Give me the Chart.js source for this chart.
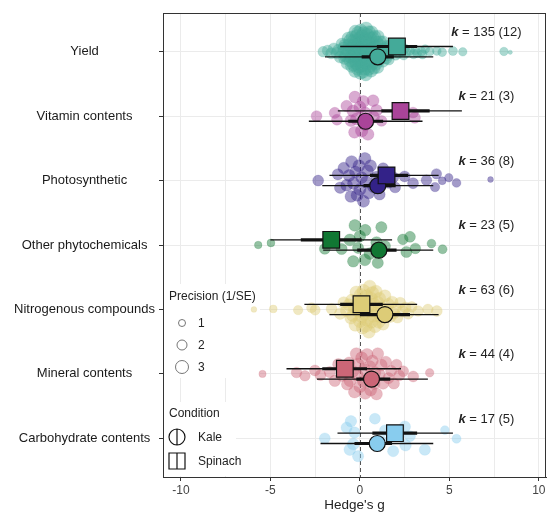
<!DOCTYPE html>
<html lang="en">
<head>
    <meta charset="UTF-8">
    <title>Orchard plot - Hedge's g</title>
    <script src="https://cdn.jsdelivr.net/npm/chart.js"></script>
    <style>
        body { margin: 0; background: #fff; }
    </style>
</head>
<body>
    <canvas id="myChart" width="547" height="515"></canvas>

    <script>
        // Moderators, top to bottom
        const categories = ['Yield', 'Vitamin contents', 'Photosynthetic', 'Other phytochemicals',
            'Nitrogenous compounds', 'Mineral contents', 'Carbohydrate contents'];
        const colours = ['#44AA99', '#AA4499', '#332288', '#117733', '#DDCC77', '#CC6677', '#88CCEE'];
        const kEffects = [135, 21, 36, 23, 63, 44, 17];
        const kStudies = [12, 3, 8, 5, 6, 4, 5];
        const xTickValues = [-10, -5, 0, 5, 10];

        // Effect sizes, [Hedge's g, precision 1/SE]
        const yieldG = [[-2.05,2.2],[-1.8,2.3],[-1.6,2.4],[-1.45,2.5],[-1.3,2.5],[-1.2,2.6],[-1.1,2.6],[-1.0,2.7],[-0.95,2.6],[-0.9,2.7],
            [-0.85,2.7],[-0.8,2.8],[-0.75,2.7],[-0.7,2.8],[-0.65,2.8],[-0.6,2.9],[-0.55,2.8],[-0.5,2.9],[-0.47,2.9],[-0.44,2.8],
            [-0.4,3],[-0.37,2.9],[-0.34,3],[-0.3,2.9],[-0.27,3],[-0.24,3],[-0.21,2.9],[-0.18,3],[-0.15,3],[-0.12,2.9],
            [-0.09,3],[-0.06,3],[-0.03,2.9],[0,3],[0.03,3],[0.06,2.9],[0.09,3],[0.12,3],[0.15,2.9],[0.18,3],
            [0.21,3],[0.24,2.9],[0.27,3],[0.3,3],[0.33,2.9],[0.36,3],[0.39,3],[0.42,2.9],[0.45,3],[0.48,2.9],
            [0.51,3],[0.54,2.9],[0.57,3],[0.6,2.9],[0.63,2.9],[0.66,3],[0.69,2.8],[0.72,2.9],[0.75,2.8],[0.78,2.9],
            [0.82,2.8],[0.86,2.8],[0.9,2.7],[0.94,2.8],[0.98,2.7],[1.02,2.7],[1.06,2.6],[1.1,2.7],[1.15,2.6],[1.2,2.6],
            [1.25,2.5],[1.3,2.5],[1.36,2.5],[1.42,2.4],[1.48,2.4],[1.55,2.3],[1.62,2.3],[1.7,2.2],[1.8,2.2],[1.9,2.1],
            [2.0,2.1],[2.15,2.0],[2.3,2.0],[2.45,1.9],[2.6,1.9],[2.8,1.8],[3.0,1.8],[3.2,1.7],[3.45,1.7],[3.65,1.6],
            [3.9,1.6],[4.3,1.6],[4.6,1.6],[5.2,1.7],[5.75,1.5],[8.05,1.5],[8.4,0.1],
            [-0.35,2.9],[-0.15,3],[0.05,3],[0.15,3],[0.25,3],[0.35,3],[0.45,2.9],[0.55,3],[-0.25,3],[-0.05,3],
            [0.65,2.9],[0.75,2.9],[0.85,2.8],[1.0,2.7],[-0.55,2.9],[-0.45,2.9],[0.2,3],[0.4,3],[0.1,3],[-0.1,3],
            [1.3,2.5],[1.5,2.4],[0.5,3],[0,3],[-0.2,3],[0.3,3],[0.7,2.9],[0.95,2.8],[1.12,2.6],[-0.65,2.8],
            [-0.85,2.6],[2.1,2.0],[2.5,1.9],[3.1,1.8],[3.5,1.7],[1.6,2.3],[-0.3,3],[0.6,3]];
        const vitaminG = [[-2.42,2.3],[-1.4,2.4],[-1.28,2.3],[-0.74,2.5],[-0.5,2.6],[-0.38,2.7],[-0.3,2.6],[-0.28,2.6],[-0.19,2.7],[0,2.7],
            [0.1,2.8],[0.19,2.7],[0.28,2.8],[0.3,2.8],[0.45,2.7],[0.74,2.6],[0.76,2.7],[0.93,2.6],[1.21,2.3],[2.97,2.3],[3.07,2.4]];
        const photoG = [[-2.33,2.3],[-1.23,2.4],[-1.1,2.5],[-0.9,2.5],[-0.74,2.6],[-0.6,2.6],[-0.5,2.6],[-0.46,2.7],[-0.35,2.7],[-0.25,2.6],
            [-0.15,2.7],[-0.05,2.7],[0,2.7],[0.1,2.6],[0.2,2.7],[0.28,2.7],[0.35,2.6],[0.43,2.6],[0.5,2.5],[0.6,2.6],
            [0.75,2.5],[0.93,2.5],[1.1,2.4],[1.3,2.3],[1.6,2.3],[1.86,2.4],[1.97,2.3],[2.5,2.3],[2.97,2.3],[3.72,2.2],
            [4.2,1.8],[4.28,2.1],[4.6,1.3],[4.97,1.5],[5.4,1.6],[7.3,0.6]];
        const otherG = [[-5.68,1.2],[-4.97,1.3],[-1.96,2.3],[-1.5,2.2],[-1.02,2.4],[-0.56,2.6],[-0.37,2.5],[-0.28,2.6],[-0.1,2.4],[0,2.5],
            [0.28,2.6],[0.3,2.5],[0.56,2.6],[0.93,2.5],[1.0,2.4],[1.2,2.4],[1.4,2.4],[2.4,2.2],[2.6,2.4],[2.8,2.3],
            [3.1,2.2],[4.0,1.6],[4.62,1.7]];
        const nitroG = [[-5.92,0.6],[-4.84,1.3],[-3.45,1.8],[-2.7,2.0],[-2.5,2.1],[-1.58,2.3],[-1.1,2.5],[-0.9,2.6],[-0.75,2.7],[-0.6,2.8],
            [-0.5,2.8],[-0.45,2.9],[-0.4,2.9],[-0.3,3],[-0.25,3],[-0.2,2.9],[-0.12,3],[-0.05,3],[0,3],[0.05,3],
            [0.1,3],[0.12,3],[0.15,2.9],[0.2,3],[0.25,3],[0.3,2.9],[0.35,3],[0.38,3],[0.4,3],[0.45,2.9],
            [0.5,3],[0.55,2.9],[0.6,3],[0.62,3],[0.65,2.9],[0.7,3],[0.75,2.9],[0.8,3],[0.85,2.9],[0.9,2.9],
            [0.95,2.8],[1.0,2.9],[1.05,2.8],[1.1,2.8],[1.15,2.8],[1.2,2.8],[1.3,2.7],[1.4,2.7],[1.5,2.7],[1.6,2.6],
            [1.7,2.6],[1.8,2.6],[1.9,2.5],[2.0,2.5],[2.1,2.5],[2.25,2.4],[2.4,2.4],[2.55,2.3],[2.7,2.3],[2.9,2.2],
            [3.26,2.2],[3.8,2.2],[4.3,2.3]];
        const mineralG = [[-5.44,1.1],[-3.54,2.2],[-3.07,2.2],[-2.51,2.3],[-2.2,2.3],[-1.68,2.4],[-1.4,2.5],[-1.2,2.5],[-1.0,2.6],[-0.85,2.6],
            [-0.7,2.6],[-0.6,2.6],[-0.55,2.7],[-0.4,2.7],[-0.3,2.7],[-0.2,2.7],[-0.15,2.7],[-0.1,2.7],[0,2.7],[0.1,2.7],
            [0.2,2.7],[0.25,2.7],[0.3,2.7],[0.4,2.7],[0.5,2.7],[0.55,2.6],[0.6,2.7],[0.7,2.6],[0.8,2.6],[0.84,2.6],
            [0.93,2.6],[1.0,2.6],[1.1,2.5],[1.2,2.6],[1.3,2.5],[1.45,2.5],[1.6,2.4],[1.75,2.4],[1.9,2.4],[2.05,2.3],
            [2.2,2.3],[2.42,2.3],[2.98,2.3],[3.9,1.5]];
        const carbG = [[-1.96,2.3],[-0.74,2.4],[-0.56,2.6],[-0.5,2.5],[-0.37,2.6],[-0.3,2.4],[-0.1,2.4],[0.84,2.3],[1.2,2.4],[1.4,2.3],
            [1.86,2.4],[2.51,2.5],[2.55,2.5],[2.8,2.3],[3.63,2.4],[4.75,1.6],[5.4,1.7]];
        const effectSets = [yieldG, vitaminG, photoG, otherG, nitroG, mineralG, carbG];

        // Pooled estimates by condition: estimate, confidence interval, prediction interval
        const spinachEst  = [2.07, 2.27, 1.49, -1.6, 0.09, -0.84, 1.96];
        const spinachCiLo = [0.95, 1.2, 0.56, -3.3, -1.1, -2.1, 0.7];
        const spinachCiHi = [3.2, 3.9, 2.7, 0.1, 1.28, 0.4, 3.2];
        const spinachPiLo = [-1.1, -1.23, -1.7, -5.0, -3.1, -4.1, -1.25];
        const spinachPiHi = [5.2, 5.7, 4.4, 1.8, 3.2, 2.3, 5.2];
        const kaleEst  = [1.0, 0.32, 1.0, 1.06, 1.4, 0.65, 0.97];
        const kaleCiLo = [0.1, -0.65, 0.2, -0.15, 0.0, -0.2, -0.3];
        const kaleCiHi = [1.9, 1.3, 2.0, 2.05, 2.8, 1.7, 1.8];
        const kalePiLo = [-1.95, -2.85, -2.1, -2.05, -1.7, -2.4, -2.2];
        const kalePiHi = [4.1, 3.5, 4.1, 4.1, 4.4, 3.8, 4.1];

        const FONT = "'Liberation Sans', Arial, sans-serif";
        const DODGE = 0.08;      // vertical dodge between conditions
        const SWARM_WIDTH = 0.37;

        function rgba(hex, a) {
            const n = parseInt(hex.slice(1), 16);
            return `rgba(${n >> 16},${(n >> 8) & 255},${n & 255},${a})`;
        }
        function pointSize(prec) { return 2 + 1.5 * prec; }

        // van der Corput sequence, like ggbeeswarm's quasirandom
        function vdc(n) {
            let v = 0, denom = 1;
            while (n > 0) { denom *= 2; v += (n % 2) / denom; n = Math.floor(n / 2); }
            return v;
        }
        function quasiOffsets(vals, width) {
            const n = vals.length;
            const mean = vals.reduce((a, b) => a + b, 0) / n;
            const sd = Math.sqrt(vals.reduce((a, b) => a + (b - mean) ** 2, 0) / (n - 1));
            const s = vals.slice().sort((a, b) => a - b);
            const q = p => { const h = (n - 1) * p, lo = Math.floor(h); return s[lo] + (h - lo) * ((s[lo + 1] ?? s[lo]) - s[lo]); };
            const iqr = q(0.75) - q(0.25);
            const bw = 0.9 * Math.min(sd, iqr / 1.34) * Math.pow(n, -0.2);
            const dens = vals.map(x => vals.reduce((a, xi) => a + Math.exp(-0.5 * ((x - xi) / bw) ** 2), 0));
            const maxD = Math.max(...dens);
            const order = vals.map((v, i) => i).sort((a, b) => vals[a] - vals[b] || a - b);
            const rank = [];
            order.forEach((idx, r) => { rank[idx] = r + 1; });
            return vals.map((v, i) => (vdc(rank[i]) - 0.5) * 2 * width * dens[i] / maxD);
        }

        const datasets = [];

        effectSets.forEach((pts, i) => {
            const offs = quasiOffsets(pts.map(p => p[0]), SWARM_WIDTH);
            datasets.push({
                data: pts.map((p, j) => ({ x: p[0], y: i + 1 + offs[j] })),
                pointRadius: pts.map(p => pointSize(p[1])),
                backgroundColor: rgba(colours[i], 0.45),
                borderColor: rgba(colours[i], 0.3),
                borderWidth: 0.6,
                order: 4,
            });
        });

        function addCondition(est, ciLo, ciHi, piLo, piHi, dy, style, radius) {
            categories.forEach((c, i) => {
                const y = i + 1 + dy;
                datasets.push({
                    data: [{ x: piLo[i], y: y }, { x: piHi[i], y: y }],
                    showLine: true, pointRadius: 0, borderColor: '#111', borderWidth: 1.3, order: 3,
                });
                datasets.push({
                    data: [{ x: ciLo[i], y: y }, { x: ciHi[i], y: y }],
                    showLine: true, pointRadius: 0, borderColor: '#111', borderWidth: 3.2, order: 2,
                });
                datasets.push({
                    data: [{ x: est[i], y: y }],
                    pointStyle: style, pointRadius: radius,
                    backgroundColor: colours[i], borderColor: '#111', borderWidth: 1.2, order: style === 'rect' ? 0 : 1,
                });
            });
        }
        addCondition(kaleEst, kaleCiLo, kaleCiHi, kalePiLo, kalePiHi, DODGE, 'circle', 8);
        addCondition(spinachEst, spinachCiLo, spinachCiHi, spinachPiLo, spinachPiHi, -DODGE, 'rect', 11.8);

        // Extra drawing: zero line, k labels, legends, panel border
        const extras = {
            id: 'extras',
            beforeDatasetsDraw(chart) {
                const { ctx, chartArea: a, scales: { x } } = chart;
                ctx.save();
                ctx.strokeStyle = '#555';
                ctx.lineWidth = 1;
                ctx.setLineDash([4, 3]);
                const x0 = Math.round(x.getPixelForValue(0)) + 0.5;
                ctx.beginPath();
                ctx.moveTo(x0, a.top);
                ctx.lineTo(x0, a.bottom);
                ctx.stroke();
                ctx.setLineDash([]);
                // legend backgrounds
                ctx.fillStyle = '#fff';
                ctx.fillRect(a.left + 1, 284, 96, 94);
                ctx.fillRect(a.left + 1, 402, 72, a.bottom - 403);
                ctx.restore();
            },
            afterDatasetsDraw(chart) {
                const { ctx, scales: { x, y } } = chart;
                ctx.save();
                ctx.textBaseline = 'middle';
                ctx.fillStyle = '#222';
                // k labels
                categories.forEach((c, i) => {
                    const cx = x.getPixelForValue(7.07);
                    const cy = y.getPixelForValue(i + 1 - 0.3);
                    const rest = ' = ' + kEffects[i] + ' (' + kStudies[i] + ')';
                    ctx.font = 'italic bold 13px ' + FONT;
                    const wk = ctx.measureText('k').width;
                    ctx.font = '13px ' + FONT;
                    const wr = ctx.measureText(rest).width;
                    const sx = cx - (wk + wr) / 2;
                    ctx.textAlign = 'left';
                    ctx.font = 'italic bold 13px ' + FONT;
                    ctx.fillText('k', sx, cy);
                    ctx.font = '13px ' + FONT;
                    ctx.fillText(rest, sx + wk, cy);
                });
                // precision legend
                ctx.font = '12px ' + FONT;
                ctx.fillText('Precision (1/SE)', 169, 297);
                [1, 2, 3].forEach((p, j) => {
                    const cy = 323 + j * 22;
                    ctx.beginPath();
                    ctx.arc(182, cy, pointSize(p), 0, Math.PI * 2);
                    ctx.strokeStyle = '#666';
                    ctx.lineWidth = 0.9;
                    ctx.stroke();
                    ctx.fillText(String(p), 198, cy + 1);
                });
                // condition legend
                ctx.fillText('Condition', 169, 414);
                ctx.strokeStyle = '#111';
                ctx.lineWidth = 1.2;
                ctx.beginPath();
                ctx.arc(177, 437, 8, 0, Math.PI * 2);
                ctx.moveTo(177, 429);
                ctx.lineTo(177, 445);
                ctx.stroke();
                ctx.beginPath();
                ctx.rect(169, 453, 16, 16);
                ctx.moveTo(177, 453);
                ctx.lineTo(177, 469);
                ctx.stroke();
                ctx.fillText('Kale', 198, 438);
                ctx.fillText('Spinach', 198, 462);
                ctx.restore();
            },
            afterDraw(chart) {
                const { ctx, chartArea: a } = chart;
                ctx.save();
                ctx.strokeStyle = '#333';
                ctx.lineWidth = 1;
                ctx.strokeRect(a.left + 0.5, a.top + 0.5, a.right - a.left - 1, a.bottom - a.top);
                ctx.restore();
            }
        };

        const ctx = document.getElementById('myChart').getContext('2d');
        const chart = new Chart(ctx, {
            type: 'scatter',
            data: { datasets: datasets },
            options: {
                responsive: false,
                animation: false,
                layout: { autoPadding: false, padding: { top: 13, right: 1, left: 0, bottom: 0 } },
                plugins: { legend: { display: false }, tooltip: { enabled: false } },
                scales: {
                    x: {
                        type: 'linear',
                        min: -11,
                        max: 10.4,
                        afterBuildTicks: s => {
                            const t = [];
                            for (let v = -10; v <= 10; v += 2.5) t.push({ value: v });
                            s.ticks = t;
                        },
                        afterFit: s => { s.height = 38; s.paddingLeft = 0; s.paddingRight = 0; },
                        grid: {
                            color: '#ebebeb',
                            tickLength: 4,
                            tickColor: c => (c.tick && xTickValues.includes(c.tick.value)) ? '#333' : 'rgba(0,0,0,0)',
                        },
                        border: { color: '#333' },
                        ticks: {
                            padding: 2,
                            color: '#444',
                            font: { family: FONT, size: 12 },
                            callback: v => xTickValues.includes(v) ? String(v) : '',
                        },
                        title: {
                            display: true,
                            text: "Hedge's g",
                            color: '#222',
                            font: { family: FONT, size: 13.5 },
                            padding: { top: 0, bottom: 2 },
                        },
                    },
                    y: {
                        type: 'linear',
                        reverse: true,
                        min: 0.4,
                        max: 7.6,
                        afterBuildTicks: s => { s.ticks = categories.map((c, i) => ({ value: i + 1 })); },
                        afterFit: s => { s.width = 163; s.paddingTop = 0; s.paddingBottom = 0; },
                        grid: { color: '#ebebeb', tickLength: 4, tickColor: '#333' },
                        border: { color: '#333' },
                        ticks: {
                            crossAlign: 'center',
                            padding: 4,
                            color: '#1a1a1a',
                            font: { family: FONT, size: 13 },
                            callback: v => categories[v - 1] || '',
                        },
                    },
                },
            },
            plugins: [extras],
        });
    </script>
</body>
</html>
